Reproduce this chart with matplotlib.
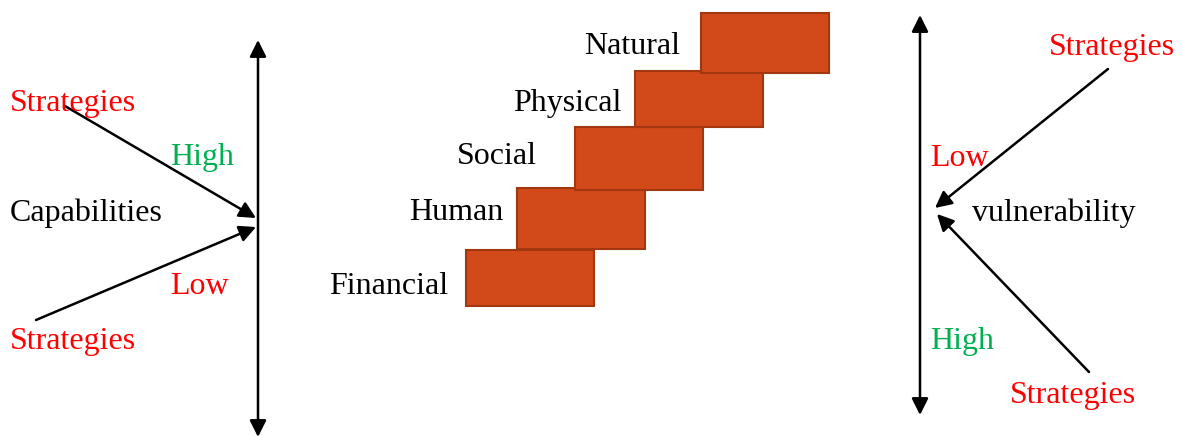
import matplotlib.pyplot as plt
from matplotlib.patches import Rectangle

# livelihood capitals shown as steps (bottom to top)
capitals = ['Financial', 'Human', 'Social', 'Physical', 'Natural']
step_left = [466, 517, 575, 635, 701]
step_top = [250, 188, 127, 71, 13]
step_height = [56, 61, 63, 56, 60]
step_width = 128

# where each step's label ends and sits
label_right = [448, 503, 537, 621, 680]
label_y = [283, 210, 154, 100, 44]

RED = '#FF0000'
GREEN = '#00B050'
BOX = '#D2491A'
BOX_EDGE = '#A2380F'

plt.rcParams['font.family'] = ['Liberation Serif', 'DejaVu Serif']

fig = plt.figure(figsize=(11.82, 4.37), dpi=100)
ax = fig.add_axes([0, 0, 1, 1])
ax.set_xlim(0, 1182)
ax.set_ylim(437, 0)
ax.axis('off')

fs = 23
dy = 3  # small shift so text centres match


def arrow(x0, y0, x1, y1, style='-|>'):
    ax.annotate('', xy=(x1, y1), xytext=(x0, y0),
                arrowprops=dict(arrowstyle=style, color='black', lw=1.8,
                                mutation_scale=25, shrinkA=0, shrinkB=0))


def label(x, y, s, color='black', ha='left'):
    ax.text(x, y + dy, s, color=color, fontsize=fs, ha=ha, va='center')


# left panel: capabilities
arrow(258, 437, 258, 40, style='<|-|>')
arrow(65, 106, 256, 218)
arrow(36, 320, 256, 227)
label(10, 100, 'Strategies', RED)
label(170, 155, 'High', GREEN)
label(10, 210, 'Capabilities')
label(170, 283, 'Low', RED)
label(10, 338, 'Strategies', RED)

# middle panel: stairs of capitals
for name, left, top, h, lx, ly in zip(capitals, step_left, step_top,
                                      step_height, label_right, label_y):
    ax.add_patch(Rectangle((left, top), step_width, h, facecolor=BOX,
                           edgecolor=BOX_EDGE, lw=1.5))
    label(lx, ly, name, ha='right')

# right panel: vulnerability
arrow(920, 415, 920, 15, style='<|-|>')
arrow(1108, 69, 935, 208)
arrow(1089, 372, 937, 214)
label(1175, 45, 'Strategies', RED, ha='right')
label(930, 155, 'Low', RED)
label(972, 210, 'vulnerability')
label(930, 338, 'High', GREEN)
label(1010, 392, 'Strategies', RED)

fig.savefig('out.png', dpi=100)
